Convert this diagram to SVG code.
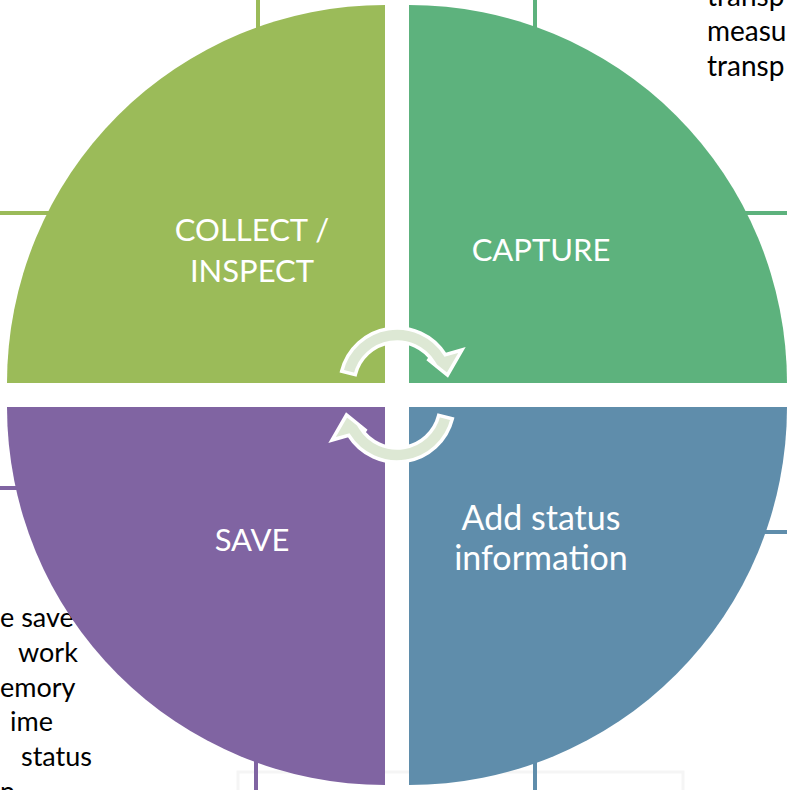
<svg xmlns="http://www.w3.org/2000/svg" width="787" height="790" viewBox="0 0 787 790">
<style>
.side{font-family:Lato,"Liberation Sans",sans-serif;font-size:28px;fill:#000}
.bl{font-size:27px}
.lbl{font-family:Lato,"Liberation Sans",sans-serif;font-weight:400;font-size:31px;fill:#fff;text-anchor:middle}
.lc{font-size:34px}
.tk{stroke-width:4;fill:none}
.arw{fill:#dde8d4;stroke:#fff;stroke-width:3.5;stroke-linejoin:miter}
</style>
<rect width="787" height="790" fill="#fff"/>
<rect x="238" y="772" width="445" height="40" fill="none" stroke="#f5f5f5" stroke-width="3"/>
<g id="text-top-right">
<text class="side" x="707" y="6">transp</text>
<text class="side" x="707" y="41">measu</text>
<text class="side" x="707" y="76">transp</text>
</g>
<g id="text-bottom-left">
<text class="side bl" x="0" y="627">e save</text>
<text class="side bl" x="18" y="662">work</text>
<text class="side bl" x="0" y="697">emory</text>
<text class="side bl" x="10" y="731">ime</text>
<text class="side bl" x="21" y="766">status</text>
<text class="side bl" x="0" y="801">n</text>
</g>
<g id="connectors">
<line class="tk" stroke="#9bbb59" x1="258" y1="0" x2="258" y2="45"/>
<line class="tk" stroke="#9bbb59" x1="0" y1="213" x2="60" y2="213"/>
<line class="tk" stroke="#5db27d" x1="535" y1="0" x2="535" y2="45"/>
<line class="tk" stroke="#5db27d" x1="740" y1="213" x2="787" y2="213"/>
<line class="tk" stroke="#8064a2" x1="0" y1="488" x2="30" y2="488"/>
<line class="tk" stroke="#8064a2" x1="256" y1="745" x2="256" y2="790"/>
<line class="tk" stroke="#5f8dab" x1="535" y1="745" x2="535" y2="790"/>
<line class="tk" stroke="#5f8dab" x1="760" y1="532" x2="787" y2="532"/>
</g>
<g id="collect-inspect">
<path d="M385,383 L7,383 A378,378 0 0 1 385,5 Z" fill="#9bbb59"/>
<text class="lbl" x="252" y="241">COLLECT /</text>
<text class="lbl" x="252" y="282">INSPECT</text>
</g>
<g id="capture">
<path d="M409,383 L409,5 A378,378 0 0 1 787,383 Z" fill="#5db27d"/>
<text class="lbl" x="541" y="261">CAPTURE</text>
</g>
<g id="add-status">
<path d="M409,407 L787,407 A378,378 0 0 1 409,785 Z" fill="#5f8dab"/>
<text class="lbl lc" x="541" y="530">Add status</text>
<text class="lbl lc" x="541" y="570">information</text>
</g>
<g id="save">
<path d="M385,407 L385,785 A378,378 0 0 1 7,407 Z" fill="#8064a2"/>
<text class="lbl" x="252" y="551">SAVE</text>
</g>
<g id="cycle-arrows">
<path class="arw" d="M341.7,371.2 A57,57 0 0 1 445.3,354.8 L462,350 L447.5,375 L427.5,359 L433.5,362.2 A43,43 0 0 0 355.3,374.6 Z"/>
<path class="arw" transform="rotate(180 397 395)" d="M341.7,371.2 A57,57 0 0 1 445.3,354.8 L462,350 L447.5,375 L427.5,359 L433.5,362.2 A43,43 0 0 0 355.3,374.6 Z"/>
</g>
</svg>
